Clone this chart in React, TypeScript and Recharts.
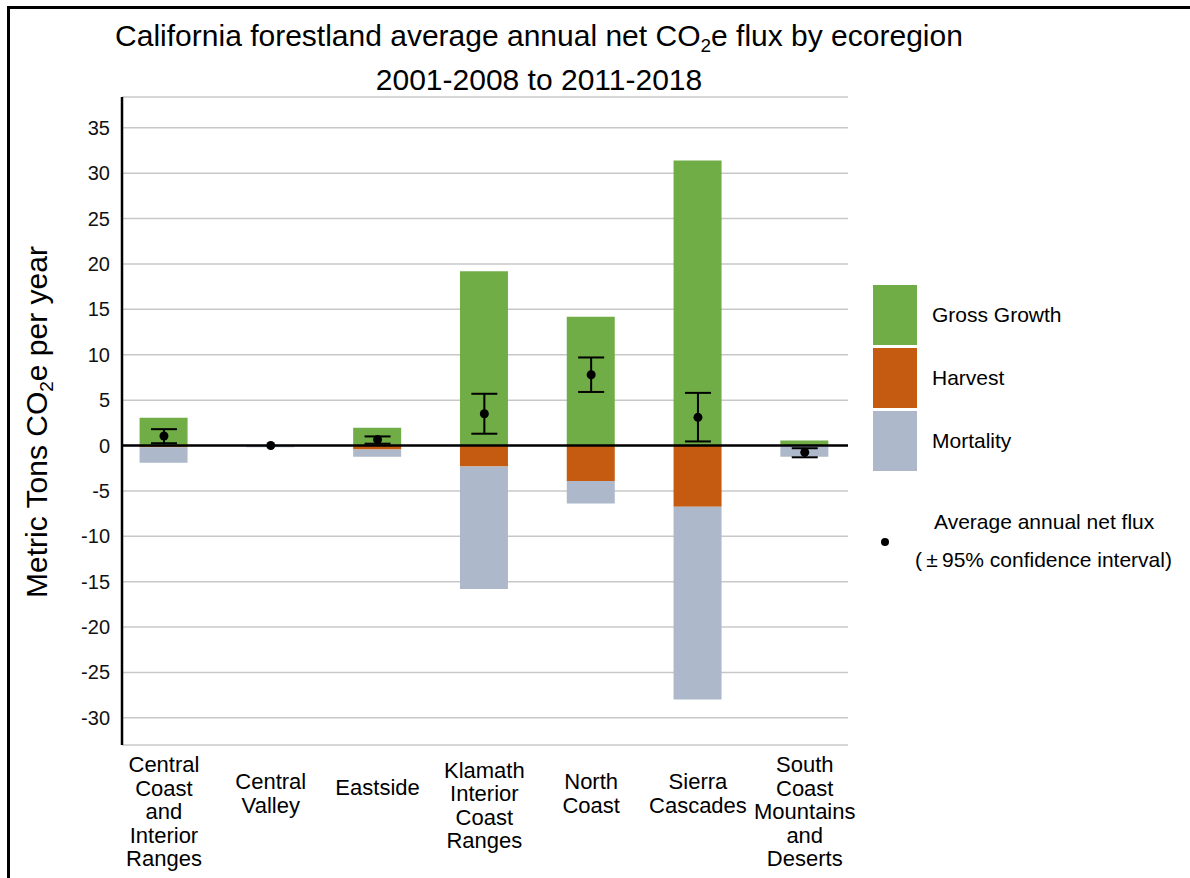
import React from 'react';
import {
  ComposedChart,
  Bar,
  Scatter,
  ErrorBar,
  XAxis,
  YAxis,
  CartesianGrid,
  ReferenceLine,
} from 'recharts';

// ecoregions, one label line per '\n'
const regions = [
  'Central\nCoast\nand\nInterior\nRanges',
  'Central\nValley',
  'Eastside',
  'Klamath\nInterior\nCoast\nRanges',
  'North\nCoast',
  'Sierra\nCascades',
  'South\nCoast\nMountains\nand\nDeserts',
];

const grossGrowth = [3.05, 0.05, 1.95, 19.2, 14.2, 31.4, 0.55];
const harvest = [-0.2, 0, -0.45, -2.3, -3.9, -6.75, -0.05];
const mortality = [-1.7, -0.2, -0.8, -13.5, -2.5, -21.25, -1.2];

const netFlux = [1.05, 0, 0.65, 3.5, 7.8, 3.1, -0.75];
const ciLow = [0.25, null, 0.2, 1.3, 5.9, 0.45, -1.3];
const ciHigh = [1.8, null, 1.0, 5.7, 9.7, 5.8, -0.3];

const yTicks = [-30, -25, -20, -15, -10, -5, 0, 5, 10, 15, 20, 25, 30, 35];

const GREEN = '#70AD47';
const ORANGE = '#C55A11';
const GREY = '#ADB9CA';
const FONT = '"Liberation Sans", Arial, sans-serif';

const data = regions.map((name, i) => ({
  idx: i,
  name,
  growth: grossGrowth[i],
  harvest: harvest[i],
  mortality: mortality[i],
  net: netFlux[i],
  err:
    ciLow[i] === null || ciHigh[i] === null
      ? null
      : [netFlux[i] - (ciLow[i] as number), (ciHigh[i] as number) - netFlux[i]],
}));

const RegionTick = (props: any) => {
  const { x, y, payload } = props;
  const lines = regions[payload.value].split('\n');
  const first = y + 42 - 5.75 * (lines.length - 1);
  return (
    <text
      x={x}
      y={first}
      textAnchor='middle'
      dominantBaseline='central'
      fontSize={22}
      fill='#000'
      fontFamily={FONT}
    >
      {lines.map((l, k) => (
        <tspan key={k} x={x} y={first + k * 23.5} dominantBaseline='central'>
          {l}
        </tspan>
      ))}
    </text>
  );
};

const NetDot = (props: any) => (
  <circle cx={props.cx} cy={props.cy} r={4.5} fill='#000' />
);

const legendItems = [
  { label: 'Gross Growth', color: GREEN, top: 285 },
  { label: 'Harvest', color: ORANGE, top: 348 },
  { label: 'Mortality', color: GREY, top: 411 },
];

const centered = (top: number): React.CSSProperties => ({
  position: 'absolute',
  left: 0,
  width: 1078,
  top,
  transform: 'translateY(-50%)',
  textAlign: 'center',
  fontSize: 30,
  color: '#000',
  whiteSpace: 'nowrap',
});

const App: React.FC = () => {
  return (
    <div
      style={{
        position: 'absolute',
        left: 0,
        top: 0,
        width: 1190,
        height: 878,
        background: '#fff',
        fontFamily: FONT,
        overflow: 'hidden',
      }}
    >
      <div
        style={{
          position: 'absolute',
          left: 7,
          top: 6,
          width: 1200,
          height: 900,
          borderTop: '3px solid #000',
          borderLeft: '3px solid #000',
        }}
      />
      <div style={centered(36)}>
        California forestland average annual net CO
        <sub style={{ fontSize: 19, verticalAlign: -6, lineHeight: 0 }}>2</sub>e
        flux by ecoregion
      </div>
      <div style={centered(80)}>2001-2008 to 2011-2018</div>
      <div
        style={{
          position: 'absolute',
          left: 37,
          top: 422,
          transform: 'translate(-50%, -50%) rotate(-90deg)',
          whiteSpace: 'nowrap',
          fontSize: 30,
          color: '#000',
        }}
      >
        Metric Tons CO
        <sub style={{ fontSize: 19, verticalAlign: -6, lineHeight: 0 }}>2</sub>e
        per year
      </div>

      <ComposedChart
        width={1190}
        height={878}
        data={data}
        stackOffset='sign'
        margin={{ top: 97, right: 342, bottom: 13, left: 62 }}
      >
        <CartesianGrid vertical={false} stroke='#c8c8c8' strokeWidth={1.5} />
        <XAxis
          dataKey='idx'
          type='number'
          domain={[-0.393, 6.405]}
          ticks={[0, 1, 2, 3, 4, 5, 6]}
          interval={0}
          axisLine={false}
          tickLine={false}
          tickSize={0}
          tickMargin={0}
          height={120}
          tick={<RegionTick />}
          allowDataOverflow
        />
        <YAxis
          width={60}
          domain={[-33, 38.4]}
          ticks={yTicks}
          interval={0}
          allowDataOverflow
          axisLine={{ stroke: '#000', strokeWidth: 2.5 }}
          tickLine={false}
          tickSize={4}
          tickMargin={8}
          tick={{ fontSize: 20, fill: '#111', fontFamily: FONT }}
        />
        <ReferenceLine y={0} stroke='#000' strokeWidth={2.5} />
        <Bar
          dataKey='growth'
          stackId='a'
          fill={GREEN}
          barSize={48}
          isAnimationActive={false}
        />
        <Bar
          dataKey='harvest'
          stackId='a'
          fill={ORANGE}
          barSize={48}
          isAnimationActive={false}
        />
        <Bar
          dataKey='mortality'
          stackId='a'
          fill={GREY}
          barSize={48}
          isAnimationActive={false}
        />
        <Scatter dataKey='net' shape={<NetDot />} isAnimationActive={false}>
          <ErrorBar
            dataKey='err'
            direction='y'
            width={13}
            stroke='#000'
            strokeWidth={2}
            isAnimationActive={false}
          />
        </Scatter>
      </ComposedChart>

      {legendItems.map((item) => (
        <React.Fragment key={item.label}>
          <div
            style={{
              position: 'absolute',
              left: 873,
              top: item.top,
              width: 44,
              height: 60,
              background: item.color,
            }}
          />
          <div
            style={{
              position: 'absolute',
              left: 932,
              top: item.top + 30,
              transform: 'translateY(-50%)',
              fontSize: 21,
              color: '#000',
              whiteSpace: 'nowrap',
            }}
          >
            {item.label}
          </div>
        </React.Fragment>
      ))}
      <div
        style={{
          position: 'absolute',
          left: 881,
          top: 538,
          width: 8,
          height: 8,
          borderRadius: '50%',
          background: '#000',
        }}
      />
      <div
        style={{
          position: 'absolute',
          left: 934,
          top: 522,
          transform: 'translateY(-50%)',
          fontSize: 21,
          whiteSpace: 'nowrap',
          color: '#000',
        }}
      >
        Average annual net flux
      </div>
      <div
        style={{
          position: 'absolute',
          left: 915,
          top: 560,
          transform: 'translateY(-50%)',
          fontSize: 21,
          whiteSpace: 'nowrap',
          color: '#000',
        }}
      >
        ({'\u2009'}±{'\u2009'}95% confidence interval)
      </div>
    </div>
  );
};

export default App;
